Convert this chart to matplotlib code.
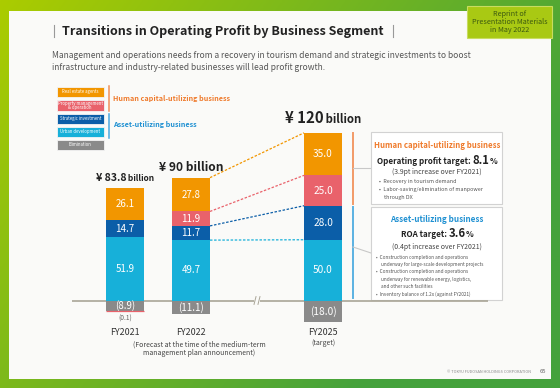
import numpy as np
import matplotlib
matplotlib.use("Agg")
import matplotlib.pyplot as plt
from matplotlib.patches import Rectangle

plt.rcParams['font.family'] = ['Noto Sans CJK JP', 'DejaVu Sans']

# ---------------- data ----------------
years = ["FY2021", "FY2022", "FY2025"]
year_notes = ["", "(Forecast at the time of the medium-term\nmanagement plan announcement)", "(target)"]
totals = [83.8, 90, 120]
segments = ["Real estate agents", "Property management\n& operation", "Strategic investment",
            "Urban development", "Elimination"]
real_estate = [26.1, 27.8, 35.0]
property_mgmt = [-0.1, 11.9, 25.0]
strategic = [14.7, 11.7, 28.0]
urban = [51.9, 49.7, 50.0]
elimination = [-8.9, -11.1, -18.0]
op_profit_target = "8.1"
roa_target = "3.6"

colors = ["#f29600", "#e9626b", "#0b5ea8", "#17b0d9", "#8a8a8a"]
orange_txt = "#ef7a2b"
blue_txt = "#1e90d2"

W, H = 560, 388
fig = plt.figure(figsize=(5.6, 3.88), dpi=100)

# ---------------- background axes (pixel coords) ----------------
bg = fig.add_axes([0, 0, 1, 1])
bg.set_xlim(0, W)
bg.set_ylim(H, 0)
bg.axis('off')
xx, yy = np.meshgrid(np.linspace(0, 1, 200), np.linspace(0, 1, 140))
t = np.clip(0.85 * xx + 0.45 * yy, 0, 1)
c0 = np.array([0xab, 0xcc, 0x00]) / 255
c1 = np.array([0x44, 0xa2, 0x3c]) / 255
img = c0[None, None, :] * (1 - t[..., None]) + c1[None, None, :] * t[..., None]
bg.imshow(img, extent=[0, W, H, 0], aspect='auto', zorder=0)
bg.add_patch(Rectangle((9, 10.5), 541.5, 368.5, facecolor="#fafaf8", edgecolor='none', zorder=1))

# reprint label
bg.add_patch(Rectangle((467, 6), 85, 32, facecolor="#a9c913", edgecolor="#c8dc60", lw=0.8, zorder=2))
bg.text(509.5, 22, "Reprint of\nPresentation Materials\nin May 2022", ha='center', va='center',
        fontsize=5.2, color="#3d5a10", linespacing=1.05, zorder=3)

# title
bg.plot([53.5, 53.5], [25, 37], color="#999999", lw=0.8, zorder=3)
bg.plot([393, 393], [25, 37], color="#999999", lw=0.8, zorder=3)
bg.text(62, 31, "Transitions in Operating Profit by Business Segment", ha='left', va='center',
        fontsize=9, fontweight='bold', color="#222222", zorder=3)
bg.text(52.5, 55, "Management and operations needs from a recovery in tourism demand and strategic investments to boost",
        ha='left', va='center', fontsize=6.08, color="#555555", zorder=3)
bg.text(52.5, 67, "infrastructure and industry-related businesses will lead profit growth.",
        ha='left', va='center', fontsize=6.08, color="#555555", zorder=3)

# legend
leg_y = [(87, 97), (100, 111), (114, 123.5), (127, 137), (140, 150)]
for (y0, y1), c, lab in zip(leg_y, colors, segments):
    bg.add_patch(Rectangle((57, y0), 46.5, y1 - y0, facecolor=c, edgecolor="#f4f4f4", lw=0.6, zorder=3))
    bg.text(80.25, (y0 + y1) / 2, lab, ha='center', va='center', fontsize=3.1, color='white',
            linespacing=0.9, zorder=4)
bg.plot([108.5, 108.5], [86, 111], color="#f0905a", lw=1.1, zorder=3)
bg.plot([108.5, 108.5], [114, 137.5], color="#4aa8e0", lw=1.1, zorder=3)
bg.text(113, 98.5, "Human capital-utilizing business", ha='left', va='center', fontsize=5.2,
        fontweight='bold', color=orange_txt, zorder=3)
bg.text(113, 124.5, "Asset-utilizing business", ha='left', va='center', fontsize=5.2,
        fontweight='bold', color=blue_txt, zorder=3)

# right-side boxes
bg.plot([352.5, 352.5], [133, 203.5], color="#f29a68", lw=1.4, zorder=3)
bg.plot([352.5, 352.5], [207, 298], color="#5ab2e2", lw=1.4, zorder=3)
bg.plot([353, 371], [168, 168], color="#c8c8c8", lw=0.8, zorder=3)
bg.plot([353, 371], [247, 253], color="#c8c8c8", lw=0.8, zorder=3)
for (y0, y1) in [(132, 204), (206.5, 300)]:
    bg.add_patch(Rectangle((372, y0 + 1), 131, y1 - y0, facecolor="#e6e6e6", edgecolor='none', zorder=2))
    bg.add_patch(Rectangle((371, y0), 131, y1 - y0, facecolor="white", edgecolor="#d2d2d2", lw=0.8, zorder=3))

fig.canvas.draw()
r = fig.canvas.get_renderer()


def rich_center(axis, xc, yc, parts):
    """parts: list of (string, fontsize). Draws them side by side centered at xc (pixel coords)."""
    objs = []
    for sstr, fs in parts:
        objs.append(axis.text(0, yc, sstr, ha='left', va='baseline', fontsize=fs, fontweight='bold',
                              color="#222222", zorder=4))
    widths = [o.get_window_extent(r).width for o in objs]
    x = xc - sum(widths) / 2
    for o, w in zip(objs, widths):
        o.set_x(x)
        x += w


bx = 437
bg.text(bx, 146, "Human capital-utilizing business", ha='center', va='center', fontsize=5.6,
        fontweight='bold', color=orange_txt, zorder=4)
rich_center(bg, bx, 164, [("Operating profit target: ", 5.8), (op_profit_target, 8.2), ("%", 5.8)])
bg.text(bx, 172, "(3.9pt increase over FY2021)", ha='center', va='center', fontsize=5.0,
        color="#444444", zorder=4)
bg.text(379, 181.5, "•  Recovery in tourism demand", ha='left', va='center', fontsize=3.9, color="#555555", zorder=4)
bg.text(379, 189.5, "•  Labor-saving/elimination of manpower", ha='left', va='center', fontsize=3.9, color="#555555", zorder=4)
bg.text(384, 197, "through DX", ha='left', va='center', fontsize=3.9, color="#555555", zorder=4)

bg.text(bx, 219.5, "Asset-utilizing business", ha='center', va='center', fontsize=5.8,
        fontweight='bold', color=blue_txt, zorder=4)
rich_center(bg, bx, 237, [("ROA target: ", 5.8), (roa_target, 8.2), ("%", 5.8)])
bg.text(bx, 247, "(0.4pt increase over FY2021)", ha='center', va='center', fontsize=5.0,
        color="#444444", zorder=4)
bullets = [(376, 257, "•  Construction completion and operations"),
           (381, 264.5, "underway for large-scale development projects"),
           (376, 272, "•  Construction completion and operations"),
           (381, 279.5, "underway for renewable energy, logistics,"),
           (381, 287, "and other such facilities"),
           (376, 294.5, "•  Inventory balance of 1.2x (against FY2021)")]
for x, y, s_ in bullets:
    bg.text(x, y, s_, ha='left', va='center', fontsize=3.4, color="#555555", zorder=4)

# footer
bg.text(531, 372, "© TOKYU FUDOSAN HOLDINGS CORPORATION", ha='right', va='center', fontsize=2.8,
        color="#888888", zorder=4)
bg.text(540, 371.5, "65", ha='left', va='center', fontsize=4.2, color="#666666", zorder=4)

# ---------------- chart axes ----------------
s = 1.215            # px per unit
zero_px = 300.5
ylo, yhi = -25, 150
bot_px = zero_px - ylo * s
top_px = zero_px - yhi * s
xu = 66.0
x0_px = 125.0
xlo, xhi = -0.8, 5.5
ax = fig.add_axes([(x0_px + xlo * xu) / W, 1 - bot_px / H, (xhi - xlo) * xu / W, (bot_px - top_px) / H])
ax.set_xlim(xlo, xhi)
ax.set_ylim(ylo, yhi)
ax.patch.set_alpha(0)
ax.axis('off')

xpos = [0, 1, 3]
bw = 0.575
series = [real_estate, property_mgmt, strategic, urban, elimination]
pos_order = [3, 2, 1, 0]
neg_order = [4, 1]

ax.axhline(0, color="#a9a597", lw=1.2, zorder=1)
# axis break
ax.add_patch(Rectangle((1.96, -2), 0.08, 4, facecolor="#fafaf8", edgecolor='none', zorder=2))
for dx in (-0.03, 0.03):
    ax.plot([1.985 + dx, 2.015 + dx], [-3.2, 3.2], color="#a9a597", lw=0.7, zorder=3)

tops = {}
for i, x in enumerate(xpos):
    pb = 0.0
    for k in pos_order:
        v = series[k][i]
        if v > 0:
            ax.bar(x, v, bw, bottom=pb, color=colors[k], edgecolor='none', zorder=3)
            ax.text(x, pb + v / 2, f"{v:.1f}", ha='center', va='center', color='white',
                    fontsize=7.3 if i == 2 else 7, zorder=5)
            pb += v
            tops[(i, k)] = pb
    nb = 0.0
    for k in neg_order:
        v = series[k][i]
        if v < 0:
            small = abs(v) < 1
            ax.bar(x, v, bw, bottom=nb, color=colors[k], edgecolor=colors[k] if small else 'none',
                   lw=0.9 if small else 0, zorder=3)
            if small:
                ax.annotate(f"({abs(v):.1f})", (x, nb + v), xytext=(0, -2.5), textcoords='offset points',
                            ha='center', va='top', fontsize=4.8, color="#666666", zorder=5)
            else:
                ax.text(x, nb + v / 2, f"({abs(v):.1f})", ha='center', va='center', color='white',
                        fontsize=7.3 if i == 2 else 7, zorder=5)
            nb += v
    tops[(i, 'top')] = pb

# dashed connectors FY2022 -> FY2025
for k in pos_order:
    if (1, k) in tops and (2, k) in tops:
        ax.plot([xpos[1] + bw / 2, xpos[2] - bw / 2], [tops[(1, k)], tops[(2, k)]],
                color=colors[k], lw=0.9, ls=(0, (2, 1.3)), zorder=2)

# total labels
num_sizes = [7.6, 8.6, 10.8]
bil_sizes = [6.0, 8.6, 8.2]
gaps = [5, 5, 7]
for i, x in enumerate(xpos):
    tnum = ax.annotate(f"¥ {totals[i]:g}", (x, tops[(i, 'top')]), xytext=(0, gaps[i]), textcoords='offset points',
                       ha='right', va='baseline', fontsize=num_sizes[i], fontweight='bold', color="#222222", zorder=5)
    tbil = ax.annotate(" billion", (x, tops[(i, 'top')]), xytext=(0, gaps[i]), textcoords='offset points',
                       ha='left', va='baseline', fontsize=bil_sizes[i], fontweight='bold', color="#222222", zorder=5)
    w1 = tnum.get_window_extent(r).width
    w2 = tbil.get_window_extent(r).width
    shift = (w1 - w2) / 2 * 72 / fig.dpi
    tnum.set_position((shift, gaps[i]))
    tbil.set_position((shift, gaps[i]))

# x labels
for i, x in enumerate(xpos):
    ax.annotate(years[i], (x, ylo), xytext=(0, -1.2), textcoords='offset points', ha='center', va='center',
                fontsize=6.4, color="#333333")
    if year_notes[i]:
        ax.annotate(year_notes[i], (x, ylo), xytext=(6 if i == 1 else 0, -13 if i == 1 else -9),
                    textcoords='offset points', ha='center', va='center', fontsize=5.0, color="#444444",
                    linespacing=1.15)

fig.savefig("out.png", dpi=100)
